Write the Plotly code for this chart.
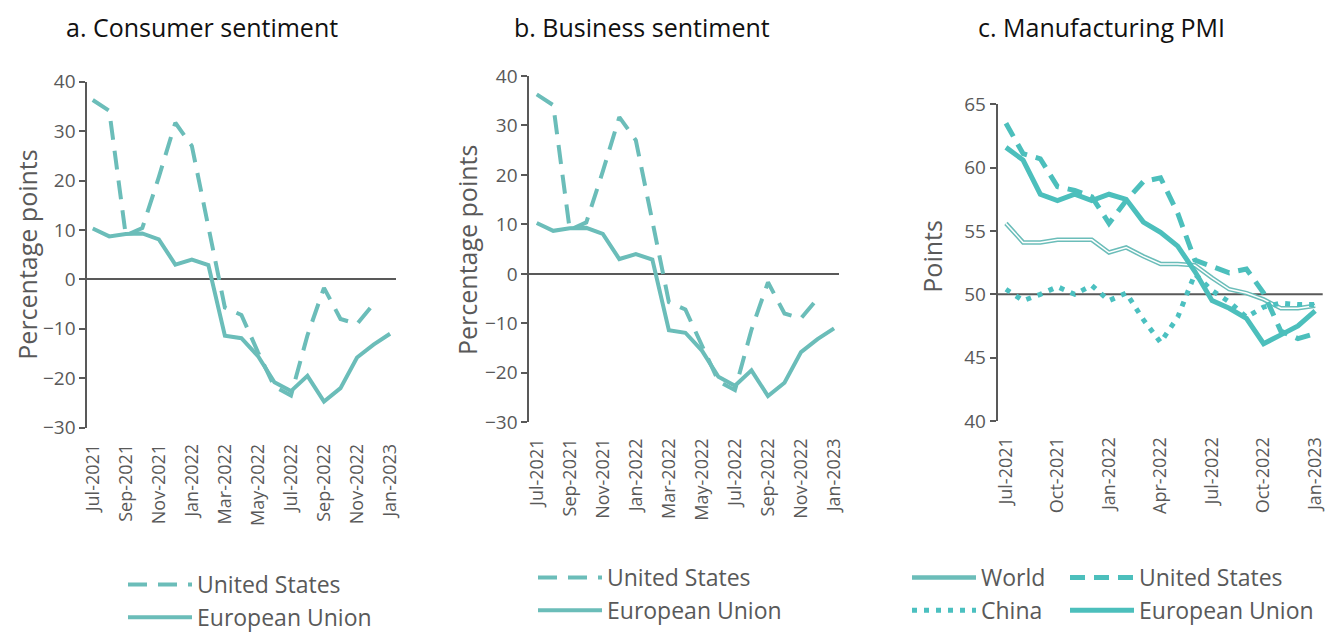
import plotly.graph_objects as go

W, H = 1338, 633
PAGE_OFFSET = 8  # default body margin of the html page

months = ["Jul-2021", "Aug-2021", "Sep-2021", "Oct-2021", "Nov-2021", "Dec-2021",
          "Jan-2022", "Feb-2022", "Mar-2022", "Apr-2022", "May-2022", "Jun-2022",
          "Jul-2022", "Aug-2022", "Sep-2022", "Oct-2022", "Nov-2022", "Dec-2022",
          "Jan-2023"]

ticks_ab = months[::2]
ticks_c = months[::3]

# a. Consumer sentiment (percentage points)
consumer_us = [36.3, 34.1, 8.9, 10.4, 20.7, 31.7, 27.0, 11.0, -5.7, -7.2, -14.7,
               -21.7, -23.5, -11.3, -1.7, -8.0, -9.0, -5.0, None]
consumer_eu = [10.3, 8.7, 9.2, 9.3, 8.1, 3.0, 4.0, 2.9, -11.4, -11.9, -15.5,
               -20.8, -22.6, -19.5, -24.7, -22.0, -15.8, -13.2, -11.0]

# b. Business sentiment (percentage points)
business_us = [36.3, 34.1, 8.9, 10.4, 20.7, 31.7, 27.0, 11.0, -5.7, -7.2, -14.7,
               -21.7, -23.5, -11.3, -1.7, -8.0, -9.0, -5.0, None]
business_eu = [10.3, 8.7, 9.2, 9.3, 8.1, 3.0, 4.0, 2.9, -11.4, -11.9, -15.5,
               -20.8, -22.6, -19.5, -24.7, -22.0, -15.8, -13.2, -11.0]

# c. Manufacturing PMI (points)
pmi_world = [55.6, 54.1, 54.1, 54.3, 54.3, 54.3, 53.3, 53.7, 53.0, 52.4, 52.4,
             52.3, 51.3, 50.4, 50.1, 49.6, 48.9, 48.9, 49.1]
pmi_us = [63.5, 61.1, 60.7, 58.5, 58.2, 57.7, 55.6, 57.4, 58.9, 59.2, 56.4,
          52.7, 52.2, 51.7, 52.0, 50.1, 47.1, 46.5, 46.9]
pmi_china = [50.4, 49.5, 50.0, 50.6, 50.0, 50.7, 49.5, 50.1, 48.0, 46.2, 48.2,
             51.6, 50.3, 49.4, 48.2, 49.0, 49.3, 49.2, 49.2]
pmi_eu = [61.6, 60.6, 57.9, 57.4, 57.9, 57.4, 57.9, 57.5, 55.7, 54.9, 53.8,
          51.8, 49.5, 48.9, 48.1, 46.1, 46.8, 47.5, 48.7]
PMI_THRESHOLD = 50

TEAL_AB = "#6BBDB9"
TEAL_C = "#4CBFBC"
TEAL_CN = "#4BC0C0"
GREY = "#595959"
FONT = "Open Sans"

fig = go.Figure()

# Panel a
fig.add_trace(go.Scatter(x=months, y=consumer_us, name="United States", mode="lines",
                         line=dict(color=TEAL_AB, width=4, dash="19px,11px"),
                         xaxis="x", yaxis="y", legend="legend"))
fig.add_trace(go.Scatter(x=months, y=consumer_eu, name="European Union", mode="lines",
                         line=dict(color=TEAL_AB, width=4),
                         xaxis="x", yaxis="y", legend="legend"))
# Panel b
fig.add_trace(go.Scatter(x=months, y=business_us, name="United States", mode="lines",
                         line=dict(color=TEAL_AB, width=4, dash="19px,11px"),
                         xaxis="x2", yaxis="y2", legend="legend2"))
fig.add_trace(go.Scatter(x=months, y=business_eu, name="European Union", mode="lines",
                         line=dict(color=TEAL_AB, width=4),
                         xaxis="x2", yaxis="y2", legend="legend2"))
# Panel c
fig.add_trace(go.Scatter(x=months, y=pmi_world, name="World", mode="lines",
                         line=dict(color=TEAL_AB, width=4.5), legendgroup="world",
                         xaxis="x3", yaxis="y3", legend="legend3"))
fig.add_trace(go.Scatter(x=months, y=pmi_world, name="World", mode="lines",
                         line=dict(color="white", width=1.5), legendgroup="world",
                         showlegend=False, hoverinfo="skip",
                         xaxis="x3", yaxis="y3", legend="legend3"))
fig.add_trace(go.Scatter(x=months, y=pmi_china, name="China", mode="lines",
                         line=dict(color=TEAL_CN, width=5, dash="5px,7px"),
                         xaxis="x3", yaxis="y3", legend="legend3"))
fig.add_trace(go.Scatter(x=months, y=pmi_us, name="United States", mode="lines",
                         line=dict(color=TEAL_C, width=5, dash="15px,9px"),
                         xaxis="x3", yaxis="y3", legend="legend4"))
fig.add_trace(go.Scatter(x=months, y=pmi_eu, name="European Union", mode="lines",
                         line=dict(color=TEAL_C, width=5),
                         xaxis="x3", yaxis="y3", legend="legend4"))


def xax(domain, rng, tickvals, anchor):
    return dict(domain=domain, type="category", range=rng, tickvals=tickvals,
                ticktext=tickvals, tickangle=-90, showline=False, showgrid=False,
                zeroline=False, ticks="outside", ticklen=8, automargin=False,
                tickcolor="rgba(0,0,0,0)", tickfont=dict(family=FONT, size=18, color=GREY),
                anchor=anchor, fixedrange=True)


def yax(domain, rng, dtick, anchor, zeroline):
    return dict(domain=domain, range=rng, dtick=dtick, tick0=0, showline=True,
                linecolor=GREY, linewidth=2, ticks="outside", ticklen=6, tickwidth=2,
                tickcolor=GREY, showgrid=False, zeroline=zeroline, automargin=False,
                zerolinecolor=GREY, zerolinewidth=2,
                tickfont=dict(family=FONT, size=19, color=GREY), anchor=anchor,
                fixedrange=True)


def px_x(p):
    return (p - PAGE_OFFSET) / W


def px_y(p):
    return (H - (p - PAGE_OFFSET)) / H


legend_common = dict(font=dict(family=FONT, size=23, color=GREY), bgcolor="rgba(0,0,0,0)",
                     xanchor="left", yanchor="top", itemwidth=64, tracegroupgap=0,
                     orientation="v", itemclick=False, itemdoubleclick=False)
LEGEND_TEXT_OFFSET = 75

fig.update_layout(
    width=W, height=H,
    margin=dict(l=0, r=0, t=0, b=0, pad=0, autoexpand=False),
    paper_bgcolor="white", plot_bgcolor="white",
    showlegend=True,
    xaxis=xax([px_x(87.3), px_x(396)], [-0.33, 18.36], ticks_ab, "y"),
    yaxis=yax([px_y(427.7), px_y(81.7)], [-30, 40], 10, "x", True),
    xaxis2=xax([px_x(529.3), px_x(839)], [-0.45, 18.3], ticks_ab, "y2"),
    yaxis2=yax([px_y(422.3), px_y(76)], [-30, 40], 10, "x2", True),
    xaxis3=xax([px_x(997.7), px_x(1322.7)], [-0.48, 18.44], ticks_c, "y3"),
    yaxis3=yax([px_y(421), px_y(104.3)], [40, 65], 5, "x3", False),
    legend=dict(legend_common, x=px_x(198 - LEGEND_TEXT_OFFSET), y=px_y(563)),
    legend2=dict(legend_common, x=px_x(608 - LEGEND_TEXT_OFFSET), y=px_y(556)),
    legend3=dict(legend_common, x=px_x(982 - LEGEND_TEXT_OFFSET), y=px_y(556)),
    legend4=dict(legend_common, x=px_x(1140 - LEGEND_TEXT_OFFSET), y=px_y(556)),
    shapes=[dict(type="line", xref="x3 domain", x0=0, x1=1, yref="y3",
                 y0=PMI_THRESHOLD, y1=PMI_THRESHOLD, line=dict(color=GREY, width=2),
                 layer="below")],
)

titles = [("a. Consumer sentiment", 202), ("b. Business sentiment", 642),
          ("c. Manufacturing PMI", 1101)]
for text, cx in titles:
    fig.add_annotation(text=text, x=px_x(cx), y=1, xref="paper", yref="paper",
                       xanchor="center", yanchor="top", showarrow=False,
                       font=dict(family=FONT, size=25, color="#111111"))

# y-axis titles: (text, left edge in px, vertical centre in px)
ytitles = [("Percentage points", PAGE_OFFSET, 254.7), ("Percentage points", 448, 250),
           ("Points", 913, 256.7)]
for text, lx, cy in ytitles:
    fig.add_annotation(text=text, x=px_x(lx), y=px_y(cy), xref="paper", yref="paper",
                       xanchor="left", yanchor="middle", showarrow=False, textangle=-90,
                       font=dict(family=FONT, size=25, color=GREY))

fig.write_html("out.html")
